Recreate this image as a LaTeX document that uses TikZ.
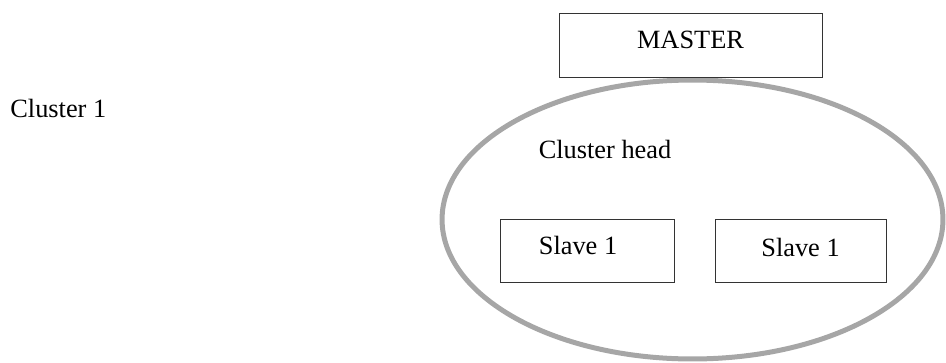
\documentclass[tikz,border=0pt]{standalone}
\usepackage{fontspec}
\setmainfont{Liberation Serif}
\usepackage{xcolor}
\usetikzlibrary{shapes.geometric}

\begin{document}
\begin{tikzpicture}[x=0.02cm, y=-0.02cm,
  every node/.style={font=\fontsize{15}{18}\selectfont},
  box/.style={rectangle, draw=black!80, line width=0.55pt, fill=white, inner sep=0pt, minimum height=1.26cm, text height=0.24cm, text depth=0.12cm},
  ring/.style={ellipse, draw=black!35, line width=0.1cm, inner sep=0pt, minimum width=10.02cm, minimum height=5.58cm}]

\useasboundingbox (0,0) rectangle (946,362);

% Cluster
\node[ring] (cluster) at (692.5,219.5) {};

% Boxes
\node[box, minimum height=1.28cm, minimum width=5.26cm] (master) at (690.5,45) {MASTER};
\node[box, minimum width=3.48cm] (slaveA) at (587,251) {Slave 1\hspace*{0.36cm}};
\node[box, minimum width=3.42cm, text height=0.2cm, text depth=0.0cm] (slaveB) at (800.5,251) {Slave 1};

% Labels
\node[anchor=base west, inner sep=0pt] (c1) at (10,117) {Cluster 1};
\node[anchor=base, inner sep=0pt] (head) at (605,158) {Cluster head};
\end{tikzpicture}
\end{document}
